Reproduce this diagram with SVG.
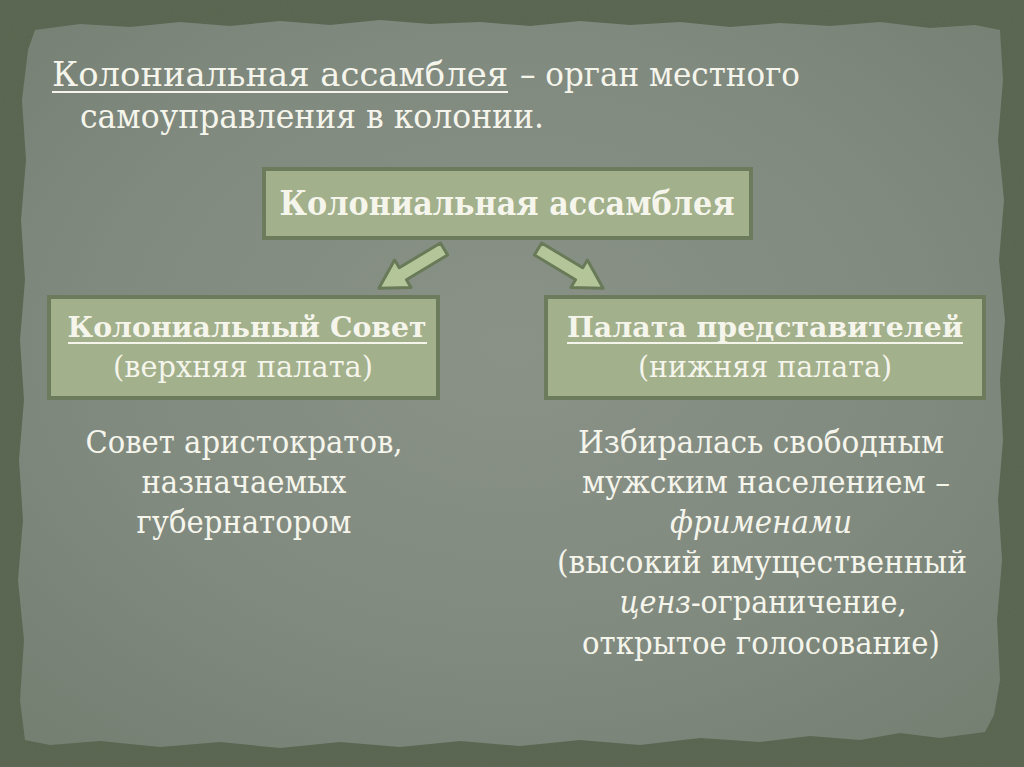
<svg xmlns="http://www.w3.org/2000/svg" width="1024" height="767" viewBox="0 0 1024 767">
<defs>
<style>
.t{font-family:"DejaVu Serif","Liberation Serif",serif;fill:#f5f5ec;}
.b{font-weight:bold;}
.i{font-style:italic;}
.box{fill:#a2b08b;stroke:#6b7b5c;stroke-width:4;}
.arr{fill:#b3c599;stroke:#687a57;stroke-width:3;stroke-linejoin:round;}
.ul{stroke:#f5f5ec;stroke-width:2;}
</style>
<radialGradient id="pg" cx="0.5" cy="0.45" r="0.7">
<stop offset="0" stop-color="#8a9288"/>
<stop offset="0.6" stop-color="#818a7f"/>
<stop offset="1" stop-color="#757f72"/>
</radialGradient>
<filter id="noise" x="0" y="0" width="100%" height="100%">
<feTurbulence type="fractalNoise" baseFrequency="0.9" numOctaves="2" seed="3" result="n"/>
<feColorMatrix type="matrix" values="0 0 0 0 0.2  0 0 0 0 0.25  0 0 0 0 0.18  0 0 0 0.18 0" in="n"/>
<feComposite operator="in" in2="SourceGraphic"/>
</filter>
</defs>
<rect width="1024" height="767" fill="#58634f"/>
<rect width="1024" height="767" fill="#000" filter="url(#noise)"/>
<path id="panel" d="M35,30 L80,24 L130,27 L180,22 L230,26 L280,21 L330,25 L380,20 L430,24 L480,22 L530,26 L580,21 L630,25 L680,22 L730,27 L780,23 L830,26 L880,22 L930,28 L975,25 L1000,30 L1003,80 L998,140 L1004,200 L999,260 L1005,320 L1000,380 L1003,440 L998,500 L1002,560 L997,620 L1000,680 L994,715 L985,732 L940,738 L900,733 L860,740 L810,736 L760,742 L700,738 L640,745 L580,740 L520,746 L460,741 L400,747 L340,742 L280,748 L220,742 L160,747 L100,741 L50,745 L25,740 L20,700 L24,640 L18,580 L23,520 L19,460 L24,400 L20,340 L25,280 L21,220 L26,160 L22,100 L28,50 Z" fill="url(#pg)"/>

<g id="title">
<text class="t" x="52" y="86" font-size="33" textLength="456" lengthAdjust="spacingAndGlyphs">Колониальная ассамблея</text>
<line class="ul" x1="52" y1="92" x2="508" y2="92"/>
<text class="t" x="520" y="86" font-size="33" textLength="280" lengthAdjust="spacingAndGlyphs">– орган местного</text>
<text class="t" x="80" y="128" font-size="33" textLength="464" lengthAdjust="spacingAndGlyphs">самоуправления в колонии.</text>
</g>

<g id="connectors">
<path class="arr" transform="translate(444,249) rotate(149)" d="M0,-7 L48,-7 L48,-16 L76,0 L48,16 L48,7 L0,7 Z"/>
<path class="arr" transform="translate(538,249) rotate(31)" d="M0,-7 L48,-7 L48,-16 L76,0 L48,16 L48,7 L0,7 Z"/>
</g>

<g id="node-assembly">
<rect class="box" x="264" y="169" width="487" height="69"/>
<text class="t b" x="507" y="215" font-size="33" text-anchor="middle" textLength="455" lengthAdjust="spacingAndGlyphs">Колониальная ассамблея</text>
</g>

<g id="node-council">
<rect class="box" x="49" y="297" width="389" height="101"/>
<text class="t b" x="247" y="337" font-size="28" text-anchor="middle" textLength="359" lengthAdjust="spacingAndGlyphs">Колониальный Совет</text>
<line class="ul" x1="68" y1="343" x2="427" y2="343"/>
<text class="t" x="243" y="377" font-size="29" text-anchor="middle" textLength="260" lengthAdjust="spacingAndGlyphs">(верхняя палата)</text>
</g>

<g id="node-house">
<rect class="box" x="546" y="297" width="438" height="101"/>
<text class="t b" x="765" y="337" font-size="28" text-anchor="middle" textLength="396" lengthAdjust="spacingAndGlyphs">Палата представителей</text>
<line class="ul" x1="567" y1="343" x2="963" y2="343"/>
<text class="t" x="765" y="377" font-size="29" text-anchor="middle" textLength="254" lengthAdjust="spacingAndGlyphs">(нижняя палата)</text>
</g>

<g id="council-desc">
<text class="t" x="244" y="453" font-size="31" text-anchor="middle" textLength="317" lengthAdjust="spacingAndGlyphs">Совет аристократов,</text>
<text class="t" x="244" y="493" font-size="31" text-anchor="middle" textLength="205" lengthAdjust="spacingAndGlyphs">назначаемых</text>
<text class="t" x="244" y="533" font-size="31" text-anchor="middle" textLength="215" lengthAdjust="spacingAndGlyphs">губернатором</text>
</g>

<g id="house-desc">
<text class="t" x="761" y="453" font-size="31" text-anchor="middle" textLength="366" lengthAdjust="spacingAndGlyphs">Избиралась свободным</text>
<text class="t" x="766" y="493" font-size="31" text-anchor="middle" textLength="368" lengthAdjust="spacingAndGlyphs">мужским населением –</text>
<text class="t i" x="761" y="533" font-size="31" text-anchor="middle" textLength="182" lengthAdjust="spacingAndGlyphs">фрименами</text>
<text class="t" x="762" y="573" font-size="31" text-anchor="middle" textLength="410" lengthAdjust="spacingAndGlyphs">(высокий имущественный</text>
<text class="t" x="763" y="613" font-size="31" text-anchor="middle" textLength="287" lengthAdjust="spacingAndGlyphs"><tspan class="i">ценз</tspan>-ограничение,</text>
<text class="t" x="761" y="654" font-size="31" text-anchor="middle" textLength="358" lengthAdjust="spacingAndGlyphs">открытое голосование)</text>
</g>
</svg>
